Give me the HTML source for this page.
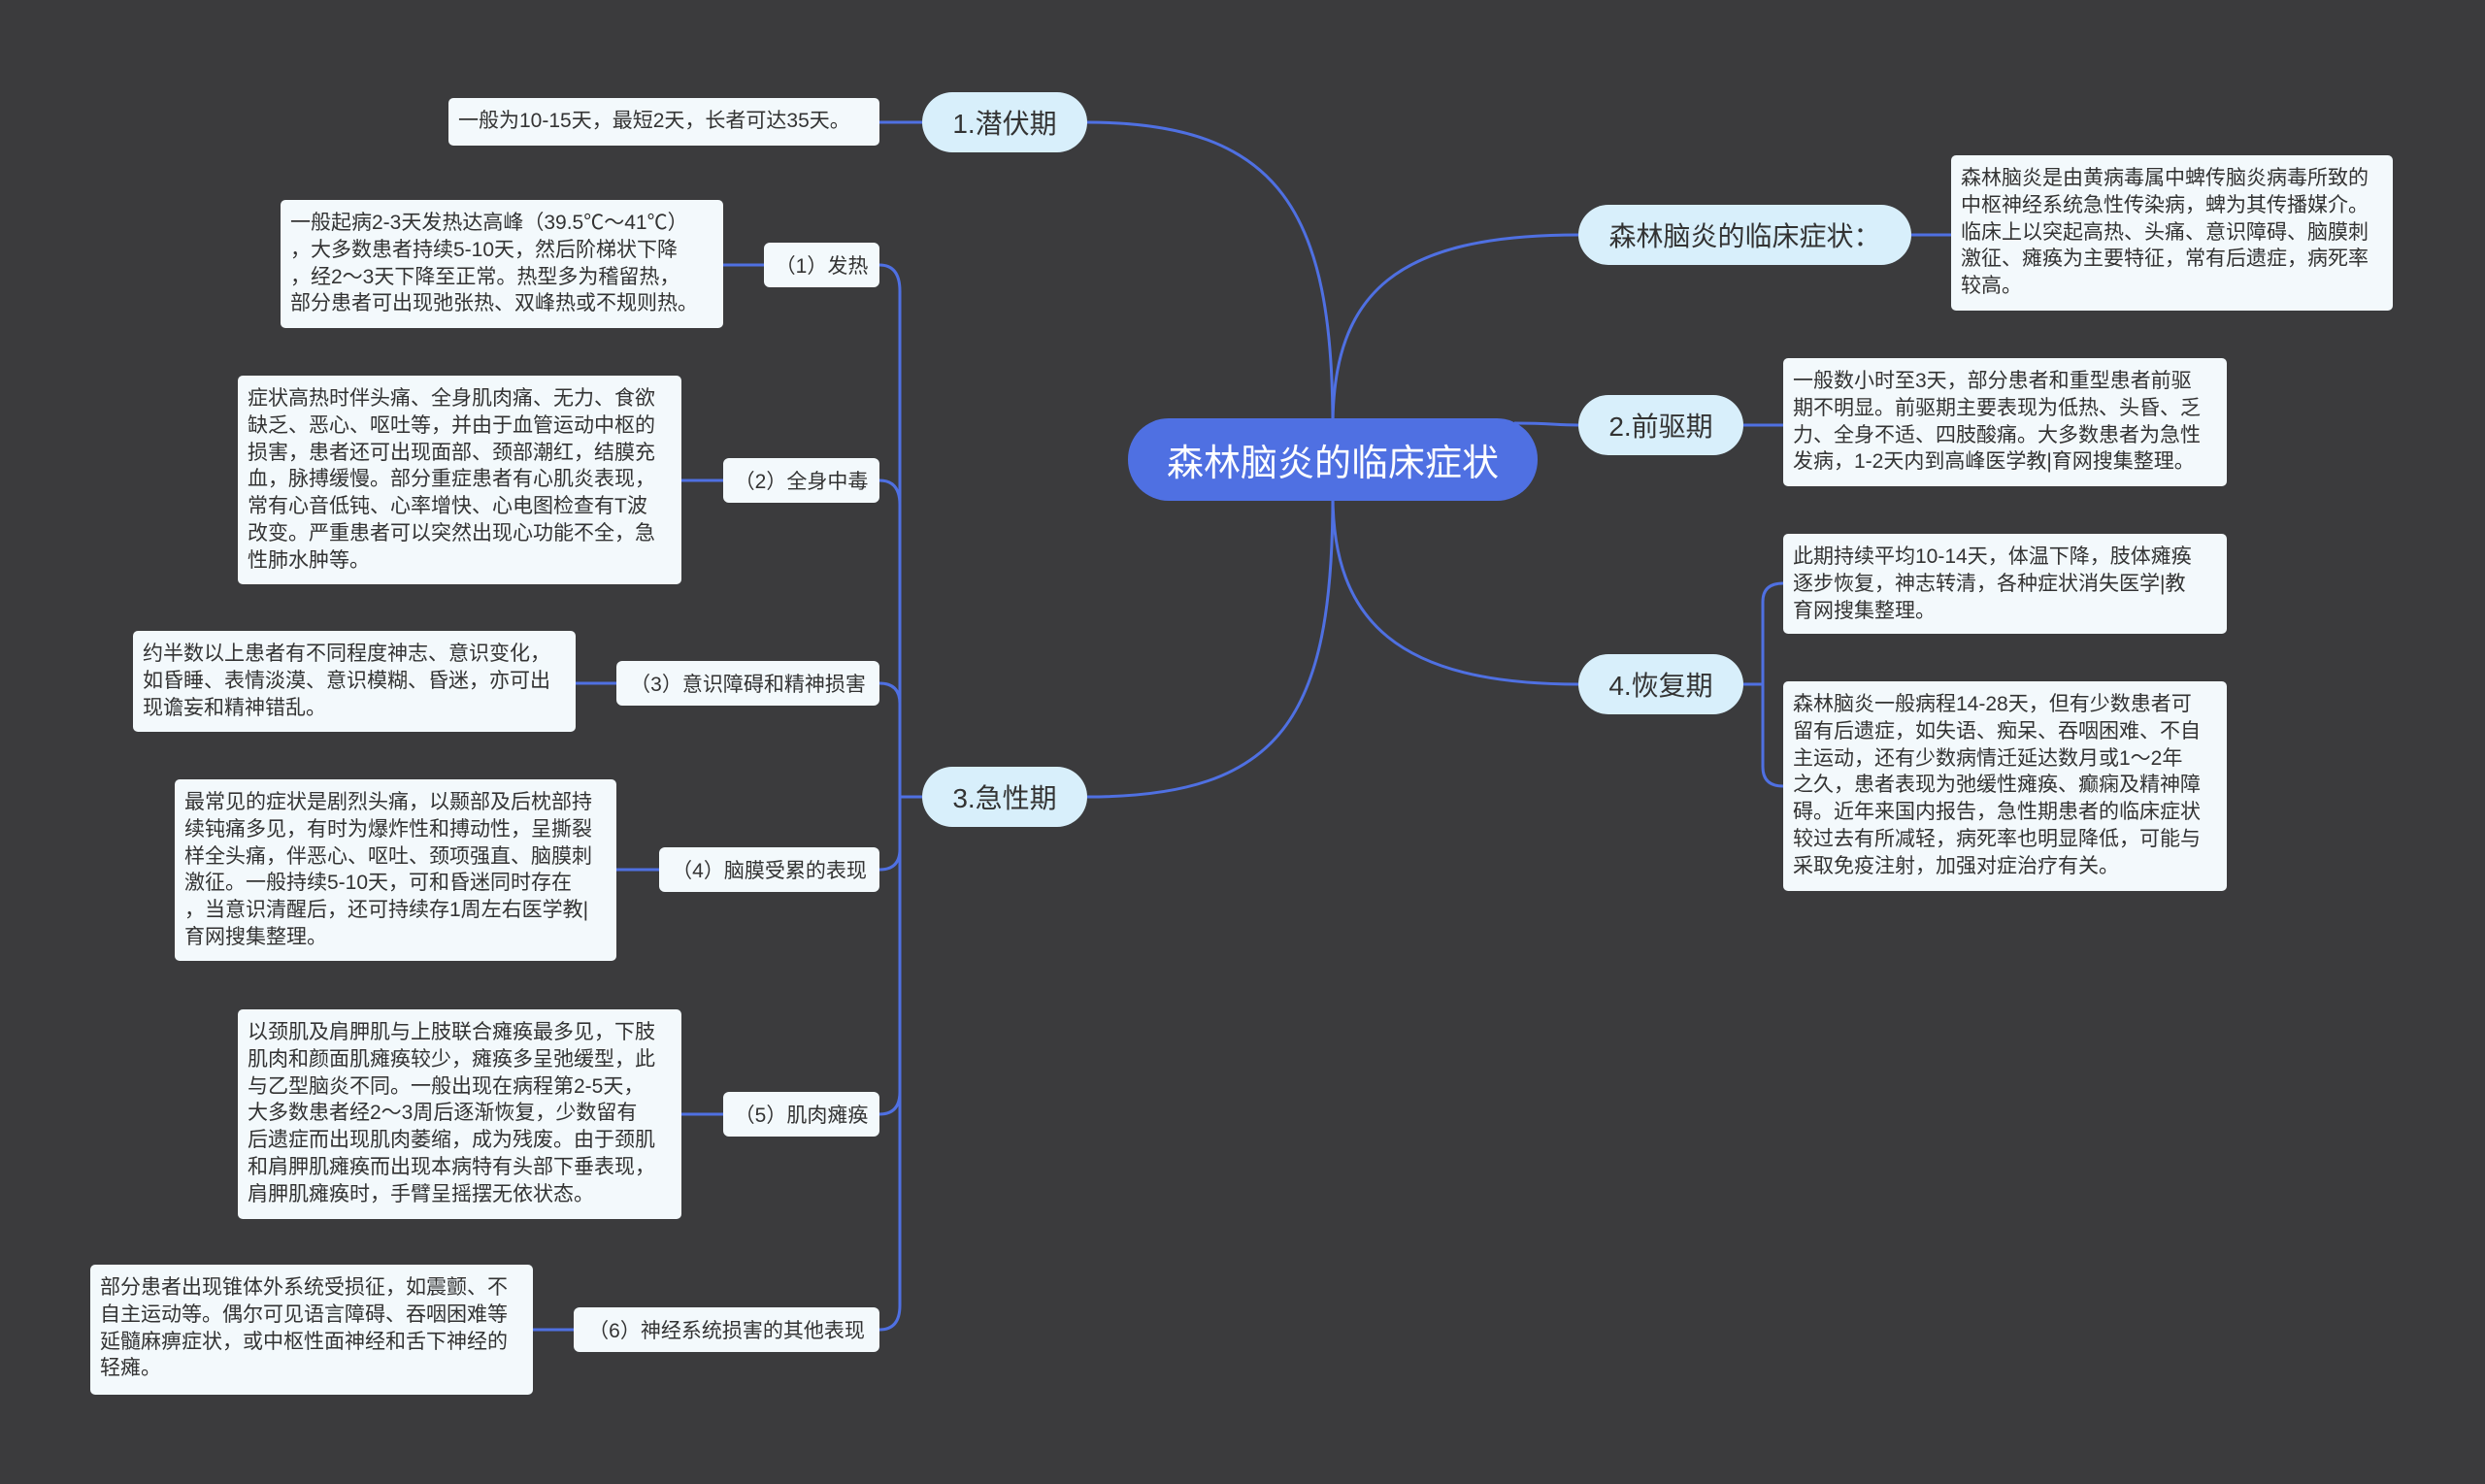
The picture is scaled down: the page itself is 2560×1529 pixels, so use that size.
<!DOCTYPE html>
<html><head><meta charset="utf-8">
<style>
html,body{margin:0;padding:0;}
body{width:2560px;height:1529px;background:#3b3b3d;position:relative;overflow:hidden;font-family:"Liberation Sans","Noto Sans CJK SC",sans-serif;}
.c{position:absolute;background:#4f70e2;color:#fff;border-radius:42px;font-size:38px;display:flex;align-items:center;justify-content:center;}
.l1{position:absolute;background:#d8effb;color:#333;border-radius:31px;font-size:28px;display:flex;align-items:center;justify-content:center;white-space:nowrap;}
.s{position:absolute;background:#f3f9fc;color:#333;border-radius:6px;font-size:21px;display:flex;align-items:center;justify-content:center;white-space:nowrap;}
.lf{position:absolute;background:#f3f9fc;color:#333;border-radius:5px;font-size:21px;line-height:27.8px;white-space:nowrap;box-sizing:border-box;padding:10px 10px;}
svg{position:absolute;left:0;top:0;}
</style></head><body>
<svg width="2560" height="1529" fill="none" stroke="#4f70e2" stroke-width="3">
<path d="M1373 440 C1373 220 1320 126 1120 126"/>
<path d="M1373 510 C1373 740 1320 821 1120 821"/>
<path d="M1373 440 C1373 300 1440 242 1626 242"/>
<path d="M1560 436 C1600 436 1600 438 1626 438"/>
<path d="M1373 510 C1373 640 1440 705 1626 705"/>
<path d="M906 126 L950 126"/>
<path d="M1969 242 L2010 242"/>
<path d="M1796 438 L1837 438"/>
<path d="M1796 705 L1816 705 M1816 705 L1816 620 Q1816 601 1837 601 M1816 705 L1816 790 Q1816 810 1837 810"/>
<path d="M950 821 L927 821"/>
<path d="M927 821 L927 300 Q927 273 906 273"/>
<path d="M927 821 L927 520 Q927 495 906 495"/>
<path d="M927 821 L927 725 Q927 704 906 704"/>
<path d="M927 821 L927 875 Q927 896 906 896"/>
<path d="M927 821 L927 1125 Q927 1148 906 1148"/>
<path d="M927 821 L927 1345 Q927 1370 906 1370"/>
<path d="M787 273 L745 273"/>
<path d="M745 495 L702 495"/>
<path d="M635 704 L593 704"/>
<path d="M679 896 L635 896"/>
<path d="M745 1148 L702 1148"/>
<path d="M591 1370 L549 1370"/>
</svg>

<div class="c" style="left:1162px;top:431px;width:422px;height:85px;">森林脑炎的临床症状</div>

<div class="l1" style="left:950px;top:95px;width:170px;height:62px;">1.潜伏期</div>
<div class="l1" style="left:1626px;top:211px;width:343px;height:62px;">森林脑炎的临床症状：</div>
<div class="l1" style="left:1626px;top:407px;width:170px;height:62px;">2.前驱期</div>
<div class="l1" style="left:1626px;top:674px;width:170px;height:62px;">4.恢复期</div>
<div class="l1" style="left:950px;top:790px;width:170px;height:62px;">3.急性期</div>

<div class="lf" style="left:462px;top:101px;width:444px;height:49px;padding-top:10px;">一般为10-15天，最短2天，长者可达35天。</div>
<div class="lf" style="left:2010px;top:160px;width:455px;height:160px;">森林脑炎是由黄病毒属中蜱传脑炎病毒所致的<br>中枢神经系统急性传染病，蜱为其传播媒介。<br>临床上以突起高热、头痛、意识障碍、脑膜刺<br>激征、瘫痪为主要特征，常有后遗症，病死率<br>较高。</div>
<div class="lf" style="left:1837px;top:369px;width:457px;height:132px;">一般数小时至3天，部分患者和重型患者前驱<br>期不明显。前驱期主要表现为低热、头昏、乏<br>力、全身不适、四肢酸痛。大多数患者为急性<br>发病，1-2天内到高峰医学教|育网搜集整理。</div>
<div class="lf" style="left:1837px;top:550px;width:457px;height:103px;">此期持续平均10-14天，体温下降，肢体瘫痪<br>逐步恢复，神志转清，各种症状消失医学|教<br>育网搜集整理。</div>
<div class="lf" style="left:1837px;top:702px;width:457px;height:216px;">森林脑炎一般病程14-28天，但有少数患者可<br>留有后遗症，如失语、痴呆、吞咽困难、不自<br>主运动，还有少数病情迁延达数月或1～2年<br>之久，患者表现为弛缓性瘫痪、癫痫及精神障<br>碍。近年来国内报告，急性期患者的临床症状<br>较过去有所减轻，病死率也明显降低，可能与<br>采取免疫注射，加强对症治疗有关。</div>

<div class="s" style="left:787px;top:250px;width:119px;height:46px;">（1）发热</div>
<div class="s" style="left:745px;top:472px;width:161px;height:46px;">（2）全身中毒</div>
<div class="s" style="left:635px;top:681px;width:271px;height:46px;">（3）意识障碍和精神损害</div>
<div class="s" style="left:679px;top:873px;width:227px;height:46px;">（4）脑膜受累的表现</div>
<div class="s" style="left:745px;top:1125px;width:161px;height:46px;">（5）肌肉瘫痪</div>
<div class="s" style="left:591px;top:1347px;width:315px;height:46px;">（6）神经系统损害的其他表现</div>

<div class="lf" style="left:289px;top:206px;width:456px;height:132px;">一般起病2-3天发热达高峰（39.5℃～41℃）<br>，大多数患者持续5-10天，然后阶梯状下降<br>，经2～3天下降至正常。热型多为稽留热，<br>部分患者可出现弛张热、双峰热或不规则热。</div>
<div class="lf" style="left:245px;top:387px;width:457px;height:215px;">症状高热时伴头痛、全身肌肉痛、无力、食欲<br>缺乏、恶心、呕吐等，并由于血管运动中枢的<br>损害，患者还可出现面部、颈部潮红，结膜充<br>血，脉搏缓慢。部分重症患者有心肌炎表现，<br>常有心音低钝、心率增快、心电图检查有T波<br>改变。严重患者可以突然出现心功能不全，急<br>性肺水肿等。</div>
<div class="lf" style="left:137px;top:650px;width:456px;height:104px;">约半数以上患者有不同程度神志、意识变化，<br>如昏睡、表情淡漠、意识模糊、昏迷，亦可出<br>现谵妄和精神错乱。</div>
<div class="lf" style="left:180px;top:803px;width:455px;height:187px;">最常见的症状是剧烈头痛，以颞部及后枕部持<br>续钝痛多见，有时为爆炸性和搏动性，呈撕裂<br>样全头痛，伴恶心、呕吐、颈项强直、脑膜刺<br>激征。一般持续5-10天，可和昏迷同时存在<br>，当意识清醒后，还可持续存1周左右医学教|<br>育网搜集整理。</div>
<div class="lf" style="left:245px;top:1040px;width:457px;height:216px;">以颈肌及肩胛肌与上肢联合瘫痪最多见，下肢<br>肌肉和颜面肌瘫痪较少，瘫痪多呈弛缓型，此<br>与乙型脑炎不同。一般出现在病程第2-5天，<br>大多数患者经2～3周后逐渐恢复，少数留有<br>后遗症而出现肌肉萎缩，成为残废。由于颈肌<br>和肩胛肌瘫痪而出现本病特有头部下垂表现，<br>肩胛肌瘫痪时，手臂呈摇摆无依状态。</div>
<div class="lf" style="left:93px;top:1303px;width:456px;height:134px;">部分患者出现锥体外系统受损征，如震颤、不<br>自主运动等。偶尔可见语言障碍、吞咽困难等<br>延髓麻痹症状，或中枢性面神经和舌下神经的<br>轻瘫。</div>
</body></html>
